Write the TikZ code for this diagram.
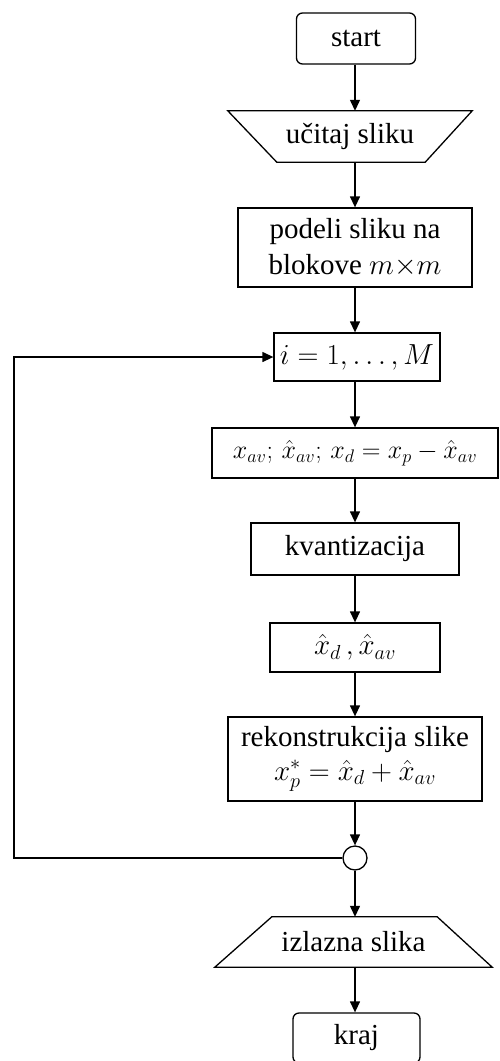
\RequirePackage{fix-cm}
\documentclass[tikz,border=0pt]{standalone}
\usepackage{fontspec}
\setmainfont{Liberation Serif}
\usetikzlibrary{arrows.meta}
\begin{document}
\begin{tikzpicture}[x=1pt,y=1pt,
  every node/.style={font=\fontsize{29}{36}\selectfont, inner sep=0pt, align=center},
  proc/.style={draw, line width=1.3pt, rectangle},
  term/.style={draw, line width=1.3pt, rectangle, rounded corners=6pt},
  iobox/.style={rectangle},
  joint/.style={draw, line width=1.3pt, circle, fill=white},
  flow/.style={line width=1.3pt, -{Triangle[length=11pt,width=10pt]}},
  line/.style={line width=1.3pt}
]
\useasboundingbox (0,0) rectangle (500,-1061);

\node[term, minimum width=119, minimum height=51] (start) at (356,-38.5) {start};
\node[iobox, minimum width=244, minimum height=51] (read) at (350,-136.5) {učitaj sliku};
\draw[line] ([xshift=49]read.south west) -- (read.north west) -- (read.north east) -- ([xshift=-47]read.south east) -- cycle;
\node[proc, minimum width=234, minimum height=79] (split) at (355,-247.5) {podeli sliku na\\blokove $m{\times}m$};
\node[proc, minimum width=166, minimum height=48] (loop) at (357,-357) {$i = 1,\ldots, M$};
\node[proc, minimum width=286, minimum height=50, font=\fontsize{26}{32}\selectfont] (calc) at (355,-453) {$x_{av};\,\hat{x}_{av};\,x_d = x_p - \hat{x}_{av}$};
\node[proc, minimum width=208, minimum height=52] (quant) at (355,-549) {kvantizacija};
\node[proc, minimum width=170, minimum height=49] (qd) at (355,-647.5) {$\hat{x}_d\,,\hat{x}_{av}$};
\node[proc, minimum width=254, minimum height=84] (rec) at (355,-759) {rekonstrukcija slike\\[-2pt]$x_p^{*} = \hat{x}_d + \hat{x}_{av}$};
\node[joint, minimum size=24] (circ) at (355,-858) {};
\node[iobox, minimum width=277, minimum height=50] (out) at (353.5,-942) {izlazna slika};
\draw[line] ([xshift=57]out.north west) -- (out.south west) -- (out.south east) -- ([xshift=-55]out.north east) -- cycle;
\node[term, minimum width=127, minimum height=50] (kraj) at (356.5,-1038) {kraj};

\coordinate (cx) at (355,0);
\draw[flow] (cx |- start.south) -- (cx |- read.north);
\draw[flow] (cx |- read.south) -- (cx |- split.north);
\draw[flow] (cx |- split.south) -- (cx |- loop.north);
\draw[flow] (cx |- loop.south) -- (cx |- calc.north);
\draw[flow] (cx |- calc.south) -- (cx |- quant.north);
\draw[flow] (cx |- quant.south) -- (cx |- qd.north);
\draw[flow] (cx |- qd.south) -- (cx |- rec.north);
\draw[flow] (cx |- rec.south) -- (circ.north);
\draw[flow] (circ.south) -- (cx |- out.north);
\draw[flow] (cx |- out.south) -- (cx |- kraj.north);

\coordinate (lb) at (14,-858);
\coordinate (lt) at (14,-357);
\draw[flow] (circ.west) -- (lb) -- (lt) -- (loop.west);
\end{tikzpicture}
\end{document}
